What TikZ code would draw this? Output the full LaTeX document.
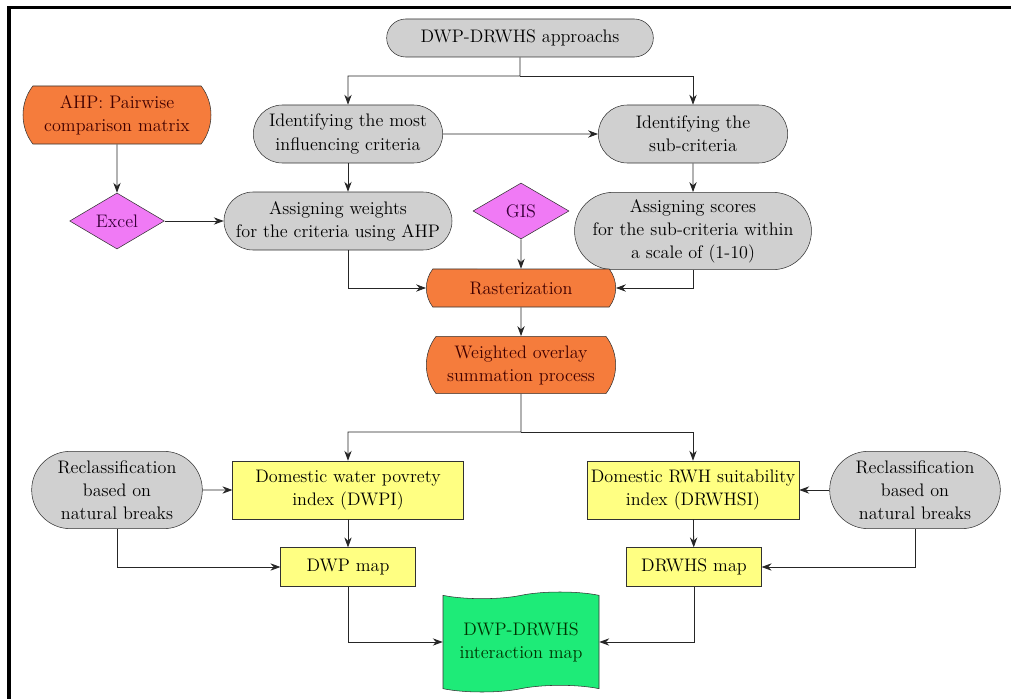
\documentclass[tikz,border=0pt]{standalone}
\usetikzlibrary{arrows.meta, positioning, shapes.geometric, shapes.misc, shapes.symbols}
\definecolor{boxgrey}{RGB}{208,208,208}
\definecolor{boxorange}{RGB}{245,124,60}
\definecolor{boxpink}{RGB}{240,122,245}
\definecolor{boxyellow}{RGB}{255,255,130}
\definecolor{boxgreen}{RGB}{30,235,120}
\definecolor{edge}{RGB}{50,50,50}

\begin{document}
\begin{tikzpicture}[
    x=0.75pt, y=-0.75pt,
    every node/.style={draw=edge, align=center, font=\fontsize{13.6}{17.3}\selectfont, text=black, inner sep=1pt},
    approach/.style={rounded rectangle, fill=boxgrey},
    process/.style={rounded rectangle, rounded rectangle arc length=75, fill=boxorange, text=red!25!black},
    tool/.style={diamond, fill=boxpink, inner sep=0pt, text=violet!45!black},
    index/.style={rectangle, fill=boxyellow},
    final/.style={tape, fill=boxgreen, tape bend top=in and out, tape bend bottom=in and out, text=green!20!black},
    arrow/.style={-{Stealth[length=7.5pt, width=5.5pt, inset=2.5pt]}, draw=black!85, line width=0.6pt}
]
\useasboundingbox (0,0) rectangle (1011,699);

% Frame
\draw[line width=2.7pt] (9,699) -- (9,7.5) -- (1011,7.5);

% Nodes
\node (app) [approach, minimum width=202pt, minimum height=28.5pt] at (520,38) {DWP-DRWHS approachs};
\node (idc) [approach, minimum width=144pt, minimum height=43.5pt] at (348,134) {Identifying the most\\ influencing criteria};
\node (isc) [approach, minimum width=144pt, minimum height=43.5pt] at (693,134) {Identifying the\\ sub-criteria};
\node (ahp) [process, minimum width=143pt, minimum height=43.5pt] at (117,115) {AHP: Pairwise\\ comparison matrix};
\node (exc) [tool, minimum width=71pt, minimum height=42pt] at (117,221) {Excel};
\node (aw) [approach, minimum width=173pt, minimum height=43.5pt] at (338,221) {Assigning weights\\ for the criteria using AHP};
\node (gis) [tool, minimum width=72pt, minimum height=42pt] at (521,211) {GIS};
\node (as) [approach, minimum width=173pt, minimum height=58pt] at (693,231) {Assigning scores\\ for the sub-criteria within\\ a scale of (1-10)};
\node (ras) [process, minimum width=144pt, minimum height=28.5pt] at (521,288) {Rasterization};
\node (wo) [process, minimum width=144pt, minimum height=43pt] at (521,365) {Weighted overlay\\ summation process};
\node (dwpi) [index, minimum width=173pt, minimum height=43.5pt] at (348,490) {Domestic water povrety\\ index (DWPI)};
\node (drwhsi) [index, minimum width=159pt, minimum height=43.5pt] at (693,490) {Domestic RWH suitability\\ index (DRWHSI)};
\node (rcl) [approach, minimum width=130pt, minimum height=58pt] at (117,490) {Reclassification\\ based on\\ natural breaks};
\node (rcr) [approach, minimum width=130pt, minimum height=58pt] at (915,490) {Reclassification\\ based on\\ natural breaks};
\node (dwpm) [index, minimum width=101pt, minimum height=29pt] at (348,567) {DWP map};
\node (drwhsm) [index, minimum width=101pt, minimum height=29pt] at (694,567) {DRWHS map};
\node (int) [final, minimum width=117pt, minimum height=75pt] at (521,642) {DWP-DRWHS\\ interaction map};

\coordinate (s1) at (520,76);
\coordinate (s2) at (521,432);

% Arrows
\draw[arrow] (app) -- (s1) -| (idc);
\draw[arrow] (s1) -| (isc);
\draw[arrow] (idc) -- (isc);
\draw[arrow] (idc.south) -- (idc.south |- aw.north);
\draw[arrow] (isc) -- (as);
\draw[arrow] (ahp) -- (exc);
\draw[arrow] (exc) -- (aw);
\draw[arrow] (gis) -- (ras);
\draw[arrow] (aw.south -| idc) |- (ras);
\draw[arrow] (as) |- (ras);
\draw[arrow] (ras) -- (wo);
\draw[arrow] (wo) -- (s2) -| (dwpi);
\draw[arrow] (s2) -| (drwhsi);
\draw[arrow] (rcl) -- (dwpi);
\draw[arrow] (rcr) -- (drwhsi);
\draw[arrow] (dwpi) -- (dwpm);
\draw[arrow] (drwhsi) -- (drwhsm);
\draw[arrow] (rcl) |- (dwpm);
\draw[arrow] (rcr) |- (drwhsm);
\draw[arrow] (dwpm) |- (int);
\draw[arrow] (drwhsm) |- (int);

\end{tikzpicture}
\end{document}
